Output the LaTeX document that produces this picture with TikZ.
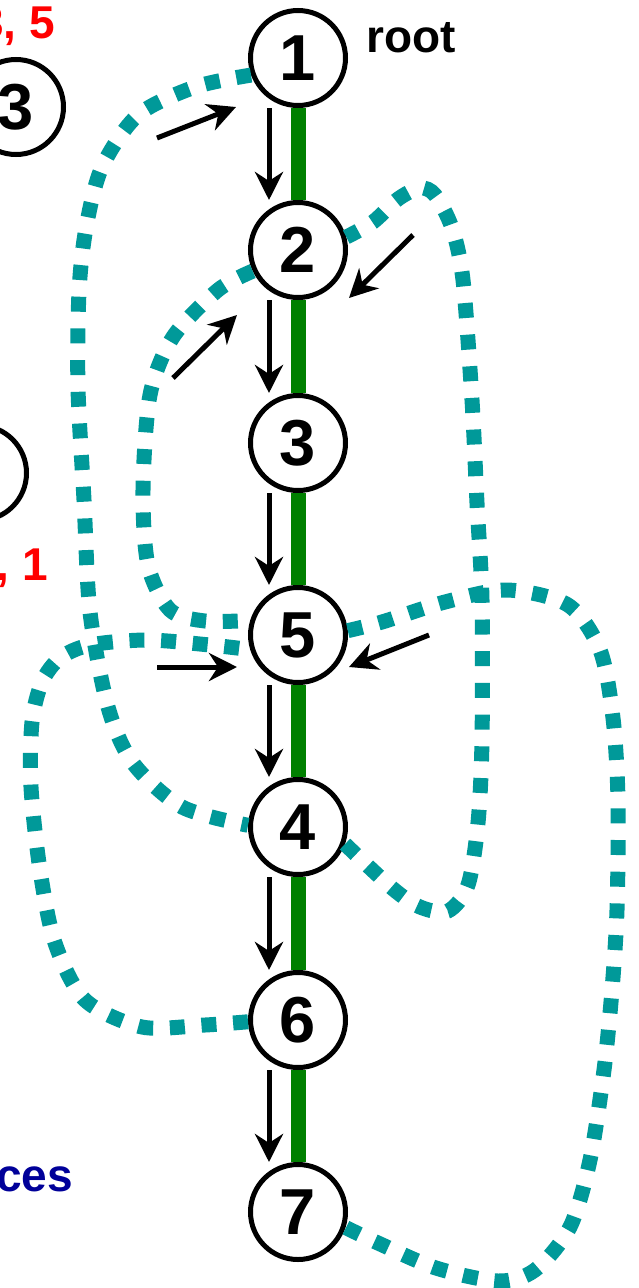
\documentclass[tikz,border=0pt]{standalone}
\usepackage{fontspec}
\setmainfont{Liberation Sans}
\usetikzlibrary{arrows.meta,calc}
\definecolor{tourteal}{RGB}{0,153,153}
\definecolor{treegreen}{RGB}{0,128,0}
\definecolor{redlbl}{RGB}{255,0,0}
\definecolor{bluelbl}{RGB}{0,0,153}
\begin{document}
\begin{tikzpicture}[x=1pt,y=-1pt,
  vtx/.style={circle, draw=black, line width=5pt, fill=white, minimum size=95pt, inner sep=0pt, font=\fontsize{65}{65}\selectfont\bfseries},
  treeedge/.style={draw=treegreen, line width=15pt},
  ptr/.style={draw=black, line width=5pt, -{Stealth[length=28pt,width=28pt,inset=9pt]}},
  tour/.style={draw=tourteal, line width=15pt, dash pattern=on 15pt off 16.7pt},
  lbl/.style={font=\fontsize{46}{46}\selectfont\bfseries, inner sep=0pt}
]
\useasboundingbox (0,0) rectangle (639,1288);
\clip (0,0) rectangle (639,1288);

% vertices
\node[vtx] (n1) at (298,58) {1};
\node[vtx] (n2) at (298,250) {2};
\node[vtx] (n3) at (298,443) {3};
\node[vtx] (n5) at (298,635) {5};
\node[vtx] (n4) at (298,827) {4};
\node[vtx] (n6) at (298,1020) {6};
\node[vtx] (n7) at (298,1212) {7};
\node[vtx] (p3) at (16,107) {3};
\node[vtx] (px) at (-21,473) {};

% tree edges
\draw[treeedge] (n1) -- (n2);
\draw[treeedge] (n2) -- (n3);
\draw[treeedge] (n3) -- (n5);
\draw[treeedge] (n5) -- (n4);
\draw[treeedge] (n4) -- (n6);
\draw[treeedge] (n6) -- (n7);

% vertical pointers
\foreach \a/\b in {n1/n2,n2/n3,n3/n5,n5/n4,n4/n6,n6/n7}
  \draw[ptr] ([xshift=-29pt]\a.south) -- ([xshift=-29pt]\b.north);

% other pointers
\coordinate (a1s) at (157,138); \coordinate (a1e) at (236,107);
\coordinate (a2s) at (413,235); \coordinate (a2e) at (349,298);
\coordinate (a3s) at (173,378); \coordinate (a3e) at (237,315);
\coordinate (a4s) at (157,667); \coordinate (a4e) at (237,667);
\coordinate (a5s) at (429,635); \coordinate (a5e) at (349,667);
\draw[ptr] (a1s) -- (a1e);
\draw[ptr] (a2s) -- (a2e);
\draw[ptr] (a3s) -- (a3e);
\draw[ptr] (a4s) -- (a4e);
\draw[ptr] (a5s) -- (a5e);

% dotted tours
\draw[tour] plot[smooth] coordinates {(n1.200) (195,87) (138,115) (102,167) (86,228) (79,292) (78,388) (84,500) (90,612) (108,707) (133,763) (182,807) (n4.178)};
\draw[tour] plot[smooth] coordinates {(n4.-20) (392,888) (420,907) (448,911) (468,885) (478,823) (482,740) (482,600) (477,503) (472,400) (463,280) (452,228) (435,195) (420,188) (398,199) (373,222) (n2.15)};
\draw[tour] plot[smooth] coordinates {(n2.205) (218,290) (173,337) (150,395) (143,490) (148,565) (170,610) (205,621) (n5.163)};
\draw[tour] plot[smooth] coordinates {(n6.182) (205,1025) (142,1027) (85,1000) (55,943) (40,870) (31,787) (32,722) (42,682) (60,658) (90,645) (147,640) (210,645) (n5.197)};
\draw[tour] plot[smooth] coordinates {(n5.5) (382,622) (445,602) (507,590) (568,605) (600,650) (613,718) (618,800) (617,910) (612,990) (604,1070) (590,1160) (570,1227) (535,1270) (498,1281) (436,1268) (378,1243) (n7.-18)};

% labels
\node[lbl, anchor=base west] (root) at (366,52) {root};
\node[lbl, text=redlbl, anchor=base east] (ord1) at (55,38) {3, 5};
\node[lbl, text=redlbl, anchor=base east] (ord2) at (48,580) {, 1};
\node[lbl, text=bluelbl, anchor=base east] (ces) at (73,1191) {ces};
\end{tikzpicture}
\end{document}
